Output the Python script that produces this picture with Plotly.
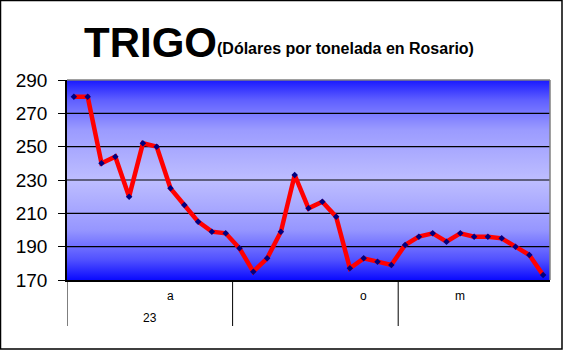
import plotly.graph_objects as go

# ---- data ----
prices = [280, 280, 240, 244, 220, 252, 250, 225, 215, 205, 199, 198, 189, 175,
          183, 199, 233, 213, 217, 208, 177, 183, 181, 179, 191, 196, 198, 193,
          198, 196, 196, 195, 190, 185, 173]
idx = list(range(len(prices)))
month_labels = ["a", "o", "m"]
month_pos = [7, 21, 28]
year_labels = ["23"]
year_pos = [5.5]
group_bounds = [-0.5, 11.5, 23.5]
y_ticks = [170, 190, 210, 230, 250, 270, 290]

W, H = 564, 350
L, R, T, B = 67, 14, 80, 70
PW, PH = W - L - R, H - T - B
YMIN, YMAX = 170, 290
XMIN, XMAX = -0.5, len(prices) - 0.5

def px2x(px):
    return (px - L) / PW

def py2y(py):
    return (H - B - py) / PH

shapes = []
# top / right gray border of plot
shapes.append(dict(type="line", xref="paper", yref="paper", x0=0, x1=1, y0=1, y1=1,
                   line=dict(color="#808080", width=1.5)))
shapes.append(dict(type="line", xref="paper", yref="paper", x0=1, x1=1, y0=0, y1=1,
                   line=dict(color="#808080", width=1.5)))
# group separators on category axis
for gb in group_bounds:
    shapes.append(dict(type="line", xref="x", yref="paper", x0=gb, x1=gb,
                       y0=0, y1=py2y(326), line=dict(color="black", width=1)))
# outer frame
shapes.append(dict(type="rect", xref="paper", yref="paper",
                   x0=px2x(0.5), x1=px2x(562), y0=py2y(349), y1=py2y(0.5),
                   line=dict(color="black", width=1.5), fillcolor="rgba(0,0,0,0)"))

annotations = []
annotations.append(dict(text="<b>TRIGO</b>", xref="paper", yref="paper",
                        x=px2x(82), y=py2y(43), xanchor="left", yanchor="middle",
                        showarrow=False, font=dict(family="Liberation Sans, Arial", size=42, color="black")))
annotations.append(dict(text="<b>(Dólares por tonelada en Rosario)</b>", xref="paper", yref="paper",
                        x=px2x(215), y=py2y(48), xanchor="left", yanchor="middle",
                        showarrow=False, font=dict(family="Liberation Sans, Arial", size=16, color="black")))
for lab, pos in zip(month_labels, month_pos):
    annotations.append(dict(text=lab, xref="x", yref="paper", x=pos, y=py2y(296),
                            xanchor="center", yanchor="middle", showarrow=False,
                            font=dict(family="Liberation Sans, Arial", size=12, color="black")))
for lab, pos in zip(year_labels, year_pos):
    annotations.append(dict(text=lab, xref="x", yref="paper", x=pos, y=py2y(318),
                            xanchor="center", yanchor="middle", showarrow=False,
                            font=dict(family="Liberation Sans, Arial", size=12, color="black")))

fig = go.Figure()
# gradient plot background
fig.add_trace(go.Scatter(
    x=[XMIN, XMAX, XMAX, XMIN, XMIN], y=[YMIN, YMIN, YMAX, YMAX, YMIN],
    mode="none", fill="toself", hoverinfo="skip", showlegend=False,
    fillgradient=dict(type="vertical", start=YMIN, stop=YMAX,
                      colorscale=[[0, "rgb(10,10,255)"], [0.1, "rgb(80,80,255)"],
                                  [0.25, "rgb(150,150,255)"], [0.5, "rgb(190,190,255)"],
                                  [0.75, "rgb(155,155,255)"], [0.9, "rgb(95,95,255)"],
                                  [1, "rgb(25,25,255)"]])))
# horizontal gridlines (drawn above the gradient fill)
gx, gy = [], []
for v in y_ticks[1:-1]:
    gx += [XMIN, XMAX, None]
    gy += [v, v, None]
fig.add_trace(go.Scatter(x=gx, y=gy, mode="lines", line=dict(color="black", width=1.2),
                         hoverinfo="skip", showlegend=False))
fig.add_trace(go.Scatter(x=idx, y=prices, mode="lines+markers",
                         line=dict(color="#ff0000", width=4.5),
                         marker=dict(symbol="diamond", size=5, color="#000080"),
                         cliponaxis=False, showlegend=False))

fig.update_layout(
    width=W, height=H,
    margin=dict(l=L, r=R, t=T, b=B),
    paper_bgcolor="white", plot_bgcolor="rgba(0,0,0,0)",
    shapes=shapes, annotations=annotations,
    xaxis=dict(range=[XMIN, XMAX], showticklabels=False, showgrid=False,
               zeroline=False, showline=True, linecolor="black", linewidth=1.5, ticks=""),
    yaxis=dict(range=[YMIN, YMAX], tickvals=y_ticks, showgrid=False,
               zeroline=False, showline=True, linecolor="black", linewidth=1.5,
               ticks="outside", ticklen=7, tickcolor="black", ticklabelstandoff=7,
               tickfont=dict(family="Liberation Sans, Arial", size=19, color="black"),
               layer="above traces"),
    font=dict(family="Liberation Sans, Arial"),
)

fig.write_html("out.html")
